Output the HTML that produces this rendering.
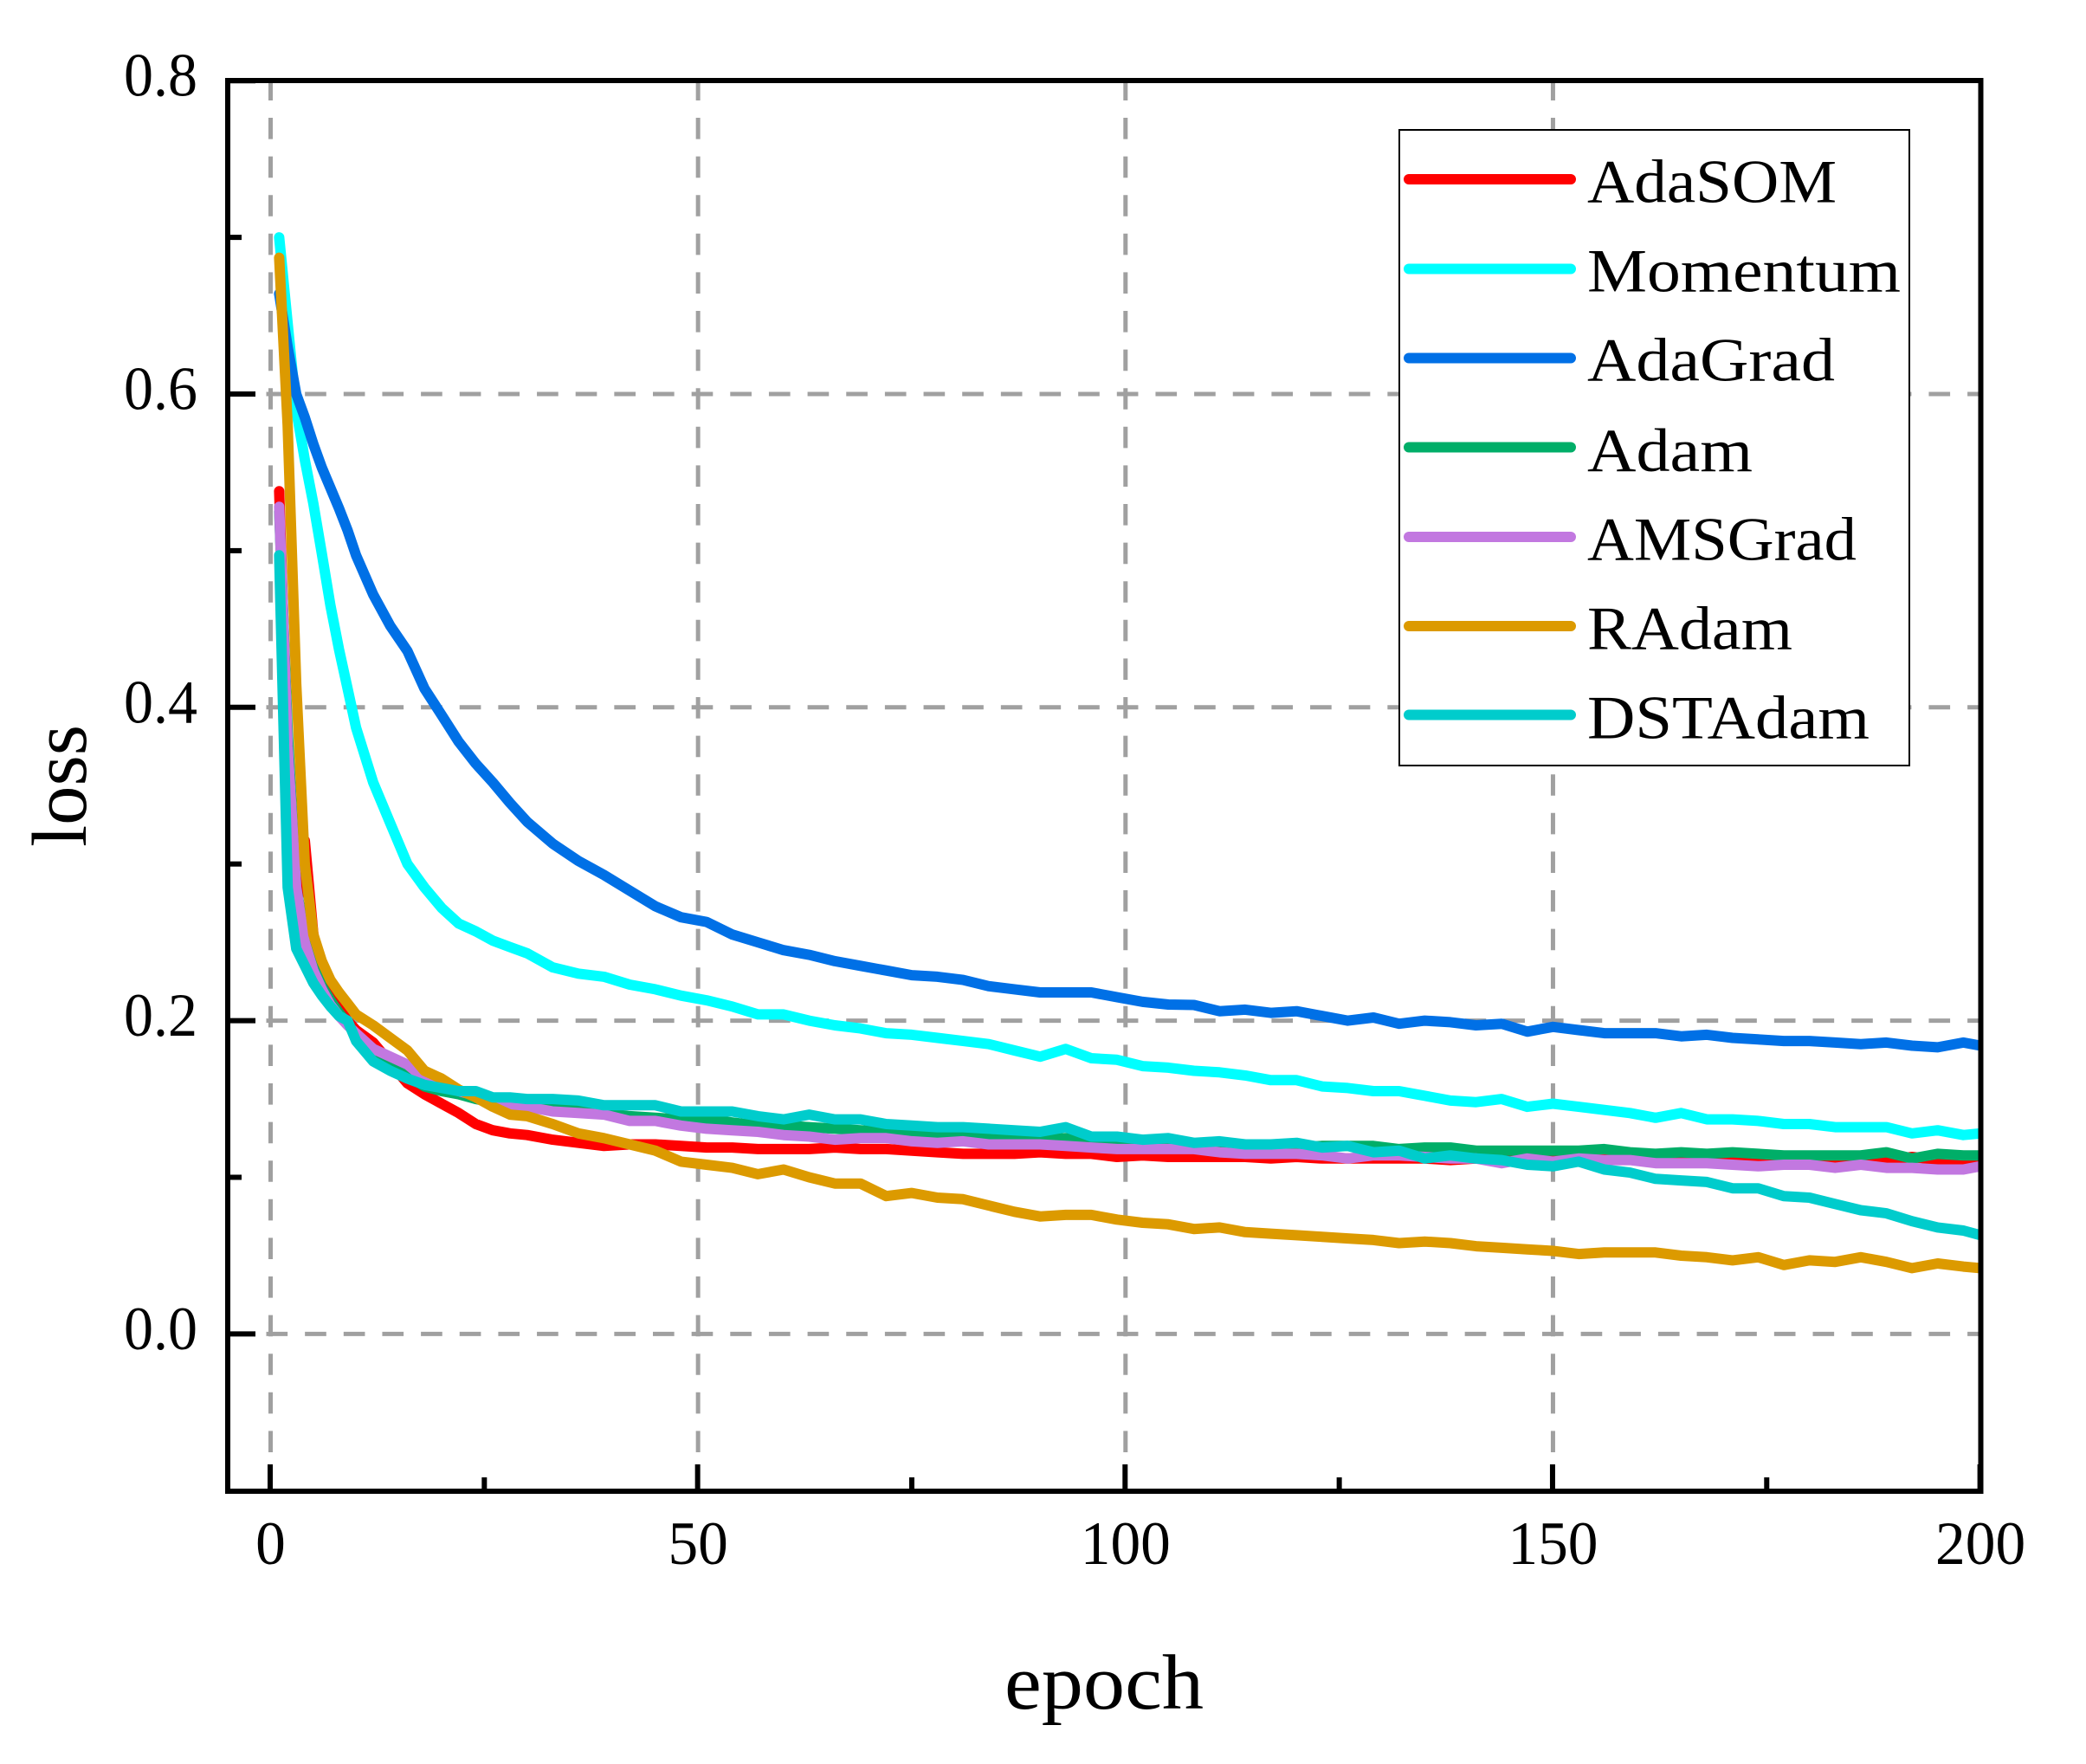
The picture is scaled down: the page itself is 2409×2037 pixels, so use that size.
<!DOCTYPE html>
<html lang="en">
<head>
<meta charset="utf-8">
<title>Training loss per epoch</title>
<style>
  html, body { margin: 0; padding: 0; background: #ffffff; }
  #chart { display: block; width: 2409px; height: 2037px; font-family: "Liberation Serif", "DejaVu Serif", serif; fill: #000; }
  .curve { fill: none; stroke-width: 12; stroke-linecap: round; stroke-linejoin: round; }
  .c-adasom { stroke: #ff0000; }
  .c-momentum { stroke: #00ffff; }
  .c-adagrad { stroke: #0070e6; }
  .c-adam { stroke: #00ae68; }
  .c-amsgrad { stroke: #c278e0; }
  .c-radam { stroke: #dc9a00; }
  .c-dstadam { stroke: #00cccc; }
  .grid-line { stroke: #a0a0a0; stroke-width: 5; fill: none; }
  .tick-line { stroke: #000; stroke-width: 6; }
  .tick-text { font-size: 71px; }
  .legend-text { font-size: 71px; }
  .axis-title { font-size: 90px; }
</style>
</head>
<body>
<svg id="chart" xmlns="http://www.w3.org/2000/svg" width="2409" height="2037" viewBox="0 0 2409 2037">
  <defs>
    <clipPath id="plot-clip"><rect x="263" y="93" width="2024.5" height="1629"></rect></clipPath>
  </defs>
  <rect x="0" y="0" width="2409" height="2037" fill="#ffffff"></rect>
  <g id="grid"></g>
  <g id="series" clip-path="url(#plot-clip)"></g>
  <g id="ticks"></g>
  <g id="tick-labels"></g>
  <rect x="263" y="93" width="2024.5" height="1629" fill="none" stroke="#000" stroke-width="6"></rect>
  <text class="axis-title" x="1160" y="1973" textLength="230" lengthAdjust="spacingAndGlyphs">epoch</text>
  <text class="axis-title" transform="translate(99 978) rotate(-90)" x="0" y="0" textLength="141" lengthAdjust="spacingAndGlyphs">loss</text>
  <g>
    <rect x="1616" y="150" width="589" height="734" fill="#ffffff" stroke="#000" stroke-width="2"></rect>
    <g>
      <line class="curve c-adasom" x1="1627" y1="207" x2="1814" y2="207"></line>
      <text class="legend-text" x="1833" y="233.5" textLength="288" lengthAdjust="spacingAndGlyphs">AdaSOM</text>
    </g>
    <g>
      <line class="curve c-momentum" x1="1627" y1="310.5" x2="1814" y2="310.5"></line>
      <text class="legend-text" x="1833" y="336.5" textLength="362" lengthAdjust="spacingAndGlyphs">Momentum</text>
    </g>
    <g>
      <line class="curve c-adagrad" x1="1627" y1="413.5" x2="1814" y2="413.5"></line>
      <text class="legend-text" x="1833" y="439.5" textLength="286" lengthAdjust="spacingAndGlyphs">AdaGrad</text>
    </g>
    <g>
      <line class="curve c-adam" x1="1627" y1="516.5" x2="1814" y2="516.5"></line>
      <text class="legend-text" x="1833" y="544" textLength="191" lengthAdjust="spacingAndGlyphs">Adam</text>
    </g>
    <g>
      <line class="curve c-amsgrad" x1="1627" y1="620" x2="1814" y2="620"></line>
      <text class="legend-text" x="1833" y="646.5" textLength="311" lengthAdjust="spacingAndGlyphs">AMSGrad</text>
    </g>
    <g>
      <line class="curve c-radam" x1="1627" y1="723" x2="1814" y2="723"></line>
      <text class="legend-text" x="1833" y="749.5" textLength="237" lengthAdjust="spacingAndGlyphs">RAdam</text>
    </g>
    <g>
      <line class="curve c-dstadam" x1="1627" y1="825.5" x2="1814" y2="825.5"></line>
      <text class="legend-text" x="1833" y="852.5" textLength="326" lengthAdjust="spacingAndGlyphs">DSTAdam</text>
    </g>
  </g>
</svg>
<script>
const epochs = [
  1,2,3,4,5,6,7,8,9,10,
  12,14,16,18,20,22,24,26,28,30,
  33,36,39,42,45,48,51,54,57,60,
  63,66,69,72,75,78,81,84,87,90,
  93,96,99,102,105,108,111,114,117,120,
  123,126,129,132,135,138,141,144,147,150,
  153,156,159,162,165,168,171,174,177,180,
  183,186,189,192,195,198,200
];
const adaSOM = [
  .538,.370,.268,.315,.255,.232,.218,.208,.200,.194,
  .186,.173,.160,.153,.147,.141,.134,.130,.128,.127,
  .124,.122,.120,.121,.121,.120,.119,.119,.118,.118,
  .118,.119,.118,.118,.117,.116,.115,.115,.115,.116,
  .115,.115,.113,.114,.113,.113,.113,.113,.112,.113,
  .112,.112,.112,.112,.112,.111,.112,.111,.112,.112,
  .112,.112,.112,.112,.111,.112,.112,.111,.112,.112,
  .112,.113,.111,.113,.111,.111,.112
];
const momentum = [
  .700,.645,.590,.558,.530,.498,.465,.437,.412,.387,
  .352,.326,.300,.285,.272,.262,.257,.251,.247,.243,
  .234,.230,.228,.223,.220,.216,.213,.209,.204,.204,
  .200,.197,.195,.192,.191,.189,.187,.185,.181,.177,
  .182,.176,.175,.171,.170,.168,.167,.165,.162,.162,
  .158,.157,.155,.155,.152,.149,.148,.150,.145,.147,
  .145,.143,.141,.138,.141,.137,.137,.136,.134,.134,
  .132,.132,.132,.128,.130,.127,.128
];
const adaGrad = [
  .664,.630,.600,.585,.568,.553,.540,.527,.513,.497,
  .472,.452,.436,.412,.395,.378,.364,.352,.339,.327,
  .313,.302,.293,.283,.273,.266,.263,.255,.250,.245,
  .242,.238,.235,.232,.229,.228,.226,.222,.220,.218,
  .218,.218,.215,.212,.2103,.210,.206,.207,.205,.206,
  .203,.200,.202,.198,.200,.199,.197,.198,.193,.196,
  .194,.192,.192,.192,.190,.191,.189,.188,.187,.187,
  .186,.185,.186,.184,.183,.186,.184
];
const adam = [
  .525,.385,.285,.255,.235,.222,.213,.205,.198,.190,
  .180,.172,.165,.158,.155,.153,.150,.148,.147,.146,
  .145,.143,.141,.139,.138,.137,.137,.135,.133,.133,
  .132,.131,.130,.129,.128,.127,.127,.126,.124,.124,
  .125,.123,.123,.121,.120,.120,.119,.120,.120,.119,
  .120,.120,.120,.118,.119,.119,.117,.117,.117,.117,
  .117,.118,.116,.115,.116,.115,.116,.115,.114,.114,
  .114,.114,.116,.112,.115,.114,.114
];
const amsGrad = [
  .528,.375,.285,.250,.232,.220,.210,.203,.197,.192,
  .182,.177,.172,.163,.158,.155,.152,.149,.146,.145,
  .142,.141,.140,.136,.136,.133,.131,.130,.129,.127,
  .126,.124,.125,.125,.123,.122,.123,.121,.121,.121,
  .120,.119,.118,.118,.118,.118,.116,.115,.115,.115,
  .114,.112,.114,.114,.113,.112,.112,.109,.112,.110,
  .112,.111,.111,.109,.109,.109,.108,.107,.108,.108,
  .106,.108,.106,.106,.105,.105,.107
];
const rAdam = [
  .687,.580,.415,.300,.255,.238,.226,.218,.211,.204,
  .197,.189,.181,.168,.163,.156,.151,.145,.140,.139,
  .134,.128,.125,.121,.117,.110,.108,.106,.102,.105,
  .100,.096,.096,.088,.090,.087,.086,.082,.078,.075,
  .076,.076,.073,.071,.070,.067,.068,.065,.064,.063,
  .062,.061,.060,.058,.059,.058,.056,.055,.054,.053,
  .051,.052,.052,.052,.050,.049,.047,.049,.044,.047,
  .046,.049,.046,.042,.045,.043,.042
];
const dstAdam = [
  .497,.285,.246,.235,.224,.216,.209,.203,.200,.187,
  .174,.168,.163,.159,.157,.155,.155,.151,.151,.150,
  .150,.149,.146,.146,.146,.142,.142,.142,.139,.137,
  .140,.137,.137,.134,.133,.132,.132,.131,.130,.129,
  .132,.126,.126,.124,.125,.122,.123,.121,.121,.122,
  .119,.120,.116,.117,.112,.114,.112,.111,.108,.107,
  .110,.105,.103,.099,.098,.097,.093,.093,.088,.087,
  .083,.079,.077,.072,.068,.066,.063
];
const xMajorTicks = [0, 50, 100, 150, 200];
const xMinorTicks = [25, 75, 125, 175];
const yMajorTicks = [0, 0.2, 0.4, 0.6, 0.8];
const yMinorTicks = [0.1, 0.3, 0.5, 0.7];
const xTickLabels = ['0', '50', '100', '150', '200'];
const yTickLabels = ['0.0', '0.2', '0.4', '0.6', '0.8'];

const SVG_NS = 'http://www.w3.org/2000/svg';
function xAxis(epoch) { return 312.5 + epoch * 9.873; }
function yAxis(loss) { return 1540.4 - loss * 1809; }
function make(tag, parent, geometry) {
  const node = document.createElementNS(SVG_NS, tag);
  for (const key in geometry) node.setAttribute(key, geometry[key]);
  parent.appendChild(node);
  return node;
}

const gridLayer = document.getElementById('grid');
const seriesLayer = document.getElementById('series');
const tickLayer = document.getElementById('ticks');
const labelLayer = document.getElementById('tick-labels');

xMajorTicks.forEach(function (value) {
  const line = make('line', gridLayer, { x1: xAxis(value), y1: 91.4, x2: xAxis(value), y2: 1680, class: 'grid-line', 'stroke-dasharray': '24.6 20' });
  
  
});
yMajorTicks.forEach(function (value) {
  const line = make('line', gridLayer, { x1: 307.5, y1: yAxis(value), x2: 2285, y2: yAxis(value), class: 'grid-line', 'stroke-dasharray': '24.65 20' });
  
  
});

function drawCurve(values, className, name) {
  let d = '';
  values.forEach(function (value, i) {
    d += (i === 0 ? 'M' : 'L') + xAxis(epochs[i]).toFixed(1) + ' ' + yAxis(value).toFixed(1);
  });
  const path = make('path', seriesLayer, { d: d, class: 'curve ' + className });
  
  
}
drawCurve(adaSOM, 'c-adasom', 'series-adasom');
drawCurve(momentum, 'c-momentum', 'series-momentum');
drawCurve(adaGrad, 'c-adagrad', 'series-adagrad');
drawCurve(adam, 'c-adam', 'series-adam');
drawCurve(amsGrad, 'c-amsgrad', 'series-amsgrad');
drawCurve(rAdam, 'c-radam', 'series-radam');
drawCurve(dstAdam, 'c-dstadam', 'series-dstadam');

xMajorTicks.forEach(function (value, i) {
  const tick = make('line', tickLayer, { x1: xAxis(value) - 0.5, y1: 1720, x2: xAxis(value) - 0.5, y2: 1691, class: 'tick-line' });
  
  
  const label = xTickLabels[i];
  const text = make('text', labelLayer, { x: xAxis(value), y: 1806, class: 'tick-text', 'text-anchor': 'middle', textLength: label.length * 34.7, lengthAdjust: 'spacingAndGlyphs' });
  text.textContent = label;
  
  
});
xMinorTicks.forEach(function (value) {
  const tick = make('line', tickLayer, { x1: xAxis(value), y1: 1720, x2: xAxis(value), y2: 1706, class: 'tick-line' });
  
  
});
yMajorTicks.forEach(function (value, i) {
  const tick = make('line', tickLayer, { x1: 265, y1: yAxis(value), x2: 295, y2: yAxis(value), class: 'tick-line' });
  
  
  const text = make('text', labelLayer, { x: 143, y: yAxis(value) + 17.5, class: 'tick-text', textLength: 85, lengthAdjust: 'spacingAndGlyphs' });
  text.textContent = yTickLabels[i];
  
  
});
yMinorTicks.forEach(function (value) {
  const tick = make('line', tickLayer, { x1: 265, y1: yAxis(value), x2: 279, y2: yAxis(value), class: 'tick-line' });
  
  
});
</script>
</body>
</html>
